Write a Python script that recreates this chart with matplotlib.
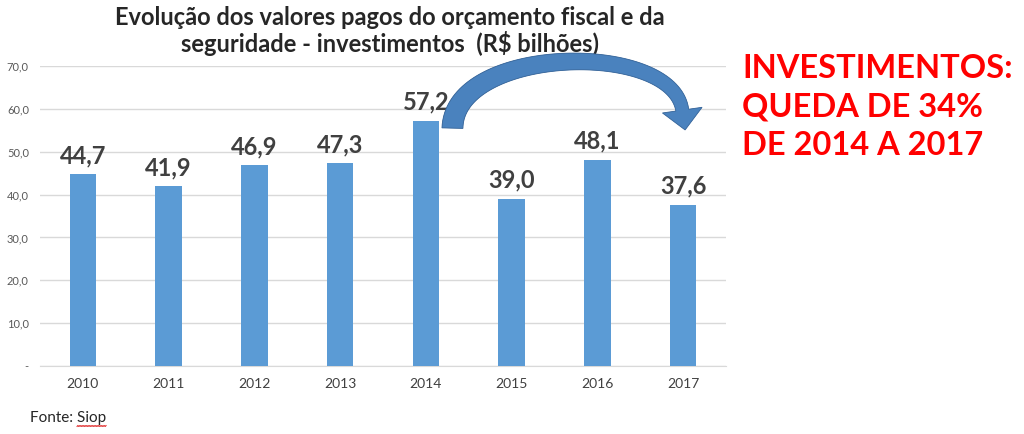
import numpy as np
import matplotlib
matplotlib.use("Agg")
import matplotlib.pyplot as plt
from matplotlib.patches import Polygon
from matplotlib.lines import Line2D
from matplotlib.transforms import IdentityTransform
from matplotlib.colors import LinearSegmentedColormap

plt.rcParams['font.family'] = ['Lato', 'DejaVu Sans']

years = ["2010", "2011", "2012", "2013", "2014", "2015", "2016", "2017"]
values = [44.7, 41.9, 46.9, 47.3, 57.2, 39.0, 48.1, 37.6]
value_labels = ["44,7", "41,9", "46,9", "47,3", "57,2", "39,0", "48,1", "37,6"]
yticks = [0, 10, 20, 30, 40, 50, 60, 70]
ytick_labels = ["-", "10,0", "20,0", "30,0", "40,0", "50,0", "60,0", "70,0"]
title = "Evolução dos valores pagos do orçamento fiscal e da\nseguridade - investimentos  (R$ bilhões)"
note = "INVESTIMENTOS:\nQUEDA DE 34%\nDE 2014 A 2017"
source_prefix = "Fonte: "
source_name = "Siop"

fig = plt.figure(figsize=(10.24, 4.34), dpi=100)
ax = fig.add_axes([40/1024, 1-366/434, 686/1024, 300/434])

x = np.arange(len(years))
bar_color = "#5B9BD5"
ax.bar(x, values, width=0.31, color=bar_color, zorder=3)
ax.set_xlim(-0.5, len(years)-0.5)
ax.set_ylim(0, 70)
ax.set_yticks(yticks)
ax.set_yticklabels(ytick_labels, fontsize=8, color="#595959")
ax.set_xticks(x)
ax.set_xticklabels(years, fontsize=10, color="#404040")
ax.tick_params(axis='both', length=0)
ax.tick_params(axis='y', pad=8)
ax.tick_params(axis='x', pad=9)
ax.grid(axis='y', color="#D9D9D9", linewidth=1, zorder=0)
for s in ["top", "right", "left"]:
    ax.spines[s].set_visible(False)
ax.spines["bottom"].set_color("#D9D9D9")

for xi, v, lab in zip(x, values, value_labels):
    ax.annotate(lab, (xi, v), xytext=(0, 5), textcoords="offset points",
                ha="center", va="bottom", fontsize=17, fontweight="bold",
                color="#404040")

fig.text(390/1024, 1-31/434, title, ha="center", va="center", fontsize=17,
         fontweight="bold", color="#262626", linespacing=1.1)

fig.text(742/1024, 1-107/434, note, ha="left", va="center", fontsize=23.5,
         fontweight="bold", color="#FF0000", linespacing=1.38)

src = fig.text(30/1024, 1-418/434, source_prefix + source_name, ha="left",
               va="center", fontsize=11, color="#262626")

# red wavy spell-check underline beneath "Siop"
renderer = fig.canvas.get_renderer()
full_bb = src.get_window_extent(renderer)
tmp = fig.text(0, 0, source_prefix.rstrip() + "\u00a0", fontsize=11)
pre_w = tmp.get_window_extent(renderer).width
tmp.remove()
ux = np.linspace(full_bb.x0 + pre_w, full_bb.x1, 40)
uy = full_bb.y0 - 1.0 + 1.0 * ((np.arange(40) % 2) - 0.5)
fig.add_artist(Line2D(ux, uy, transform=IdentityTransform(), color="#E03030",
                      linewidth=0.7))

# ---- curved, tapering arrow from the 2014 bar towards 2017 ----
i0 = years.index("2014")
i1 = years.index("2017")
to_disp = ax.transData.transform
P0 = to_disp((x[i0] + 0.31, values[i0] - 1.7))
P3 = to_disp((x[i1] - 0.01, values[i0] + 2.5))
P1 = P0 + np.array([2.0, 83.0])
P2 = P3 + np.array([-10.0, 70.0])

t = np.linspace(0, 1, 80)[:, None]
curve = ((1-t)**3)*P0 + 3*((1-t)**2)*t*P1 + 3*(1-t)*(t**2)*P2 + (t**3)*P3
deriv = 3*((1-t)**2)*(P1-P0) + 6*(1-t)*t*(P2-P1) + 3*(t**2)*(P3-P2)
tang = deriv / np.linalg.norm(deriv, axis=1, keepdims=True)
norm = np.column_stack([-tang[:, 1], tang[:, 0]])
half_w = (21 - 8 * t[:, 0]) / 2.0
left = curve + norm * half_w[:, None]
right = curve - norm * half_w[:, None]
tip = P3 + tang[-1] * 20
wing_l = P3 + norm[-1] * 20
wing_r = P3 - norm[-1] * 20
poly = np.vstack([left, [wing_l], [tip], [wing_r], right[::-1]])

arrow_fill = Polygon(poly, closed=True, transform=IdentityTransform(),
                     facecolor="#4A82BE", edgecolor="none", zorder=4, clip_on=False)
fig.add_artist(arrow_fill)

cmap = LinearSegmentedColormap.from_list("arr", ["#3B6BA0", "#4A82BE", "#6AA7DE"])
grad = np.linspace(0, 1, 256).reshape(1, -1)
im = ax.imshow(grad, cmap=cmap, extent=(x[i0], x[i1] + 0.6, 45, 85),
               aspect="auto", origin="lower", zorder=5, interpolation="bilinear")
im.set_clip_box(fig.bbox)
im.set_clip_path(arrow_fill)
ax.set_xlim(-0.5, len(years)-0.5)
ax.set_ylim(0, 70)

arrow_edge = Polygon(poly, closed=True, transform=IdentityTransform(),
                     facecolor="none", edgecolor="#3A679A", linewidth=0.6,
                     zorder=6, clip_on=False)
fig.add_artist(arrow_edge)

fig.savefig("out.png", dpi=100)
